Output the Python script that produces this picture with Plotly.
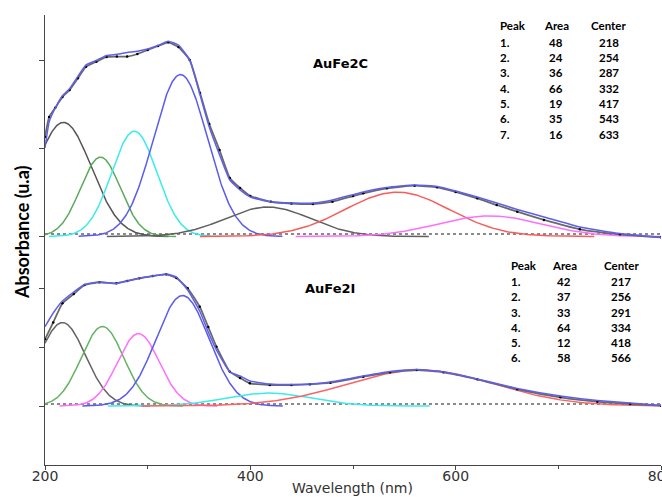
import numpy as np
import plotly.graph_objects as go

# ---- AuFe2C (upper panel): fitted Gaussian peaks ----
c_peaks = [1, 2, 3, 4, 5, 6, 7]
c_centers = [218, 254, 287, 332, 417, 543, 633]
c_areas = [48, 24, 36, 66, 19, 35, 16]
c_fwhm = [64, 46, 52, 62, 98, 120, 118]
c_colors = ["rgb(85,85,85)", "rgb(90,170,90)", "rgb(60,235,235)", "rgb(90,90,240)",
            "rgb(95,95,95)", "rgb(250,90,90)", "rgb(255,110,255)"]
c_scale = 0.184

# AuFe2C measured spectrum and cumulative fit
c_wl = [200, 204, 210, 217, 224, 232, 240, 250, 260, 270, 280, 290, 300, 310, 320, 330,
        341, 351, 360, 370, 380, 390, 400, 420, 440, 461, 480, 500, 510, 533, 560, 582,
        600, 621, 640, 660, 686, 721, 760, 800]
c_meas = [0.1131, 0.1358, 0.1463, 0.1585, 0.1665, 0.1798, 0.1930, 0.1986, 0.2040, 0.2045,
          0.2045, 0.2074, 0.2120, 0.2165, 0.2207, 0.2153, 0.2006, 0.1630, 0.1278, 0.0983,
          0.0665, 0.0551, 0.0460, 0.0395, 0.0375, 0.0369, 0.0395, 0.0460, 0.0491, 0.0548,
          0.0577, 0.0559, 0.0506, 0.0434, 0.0358, 0.0282, 0.0188, 0.0082, 0.0025, -0.0009]
c_fit = [0.1006, 0.1300, 0.1460, 0.1600, 0.1680, 0.1820, 0.1950, 0.2000, 0.2057, 0.2070,
         0.2090, 0.2105, 0.2130, 0.2170, 0.2220, 0.2176, 0.2006, 0.1610, 0.1244, 0.0930,
         0.0642, 0.0528, 0.0449, 0.0392, 0.0380, 0.0380, 0.0415, 0.0475, 0.0506, 0.0557,
         0.0585, 0.0568, 0.0517, 0.0449, 0.0380, 0.0307, 0.0222, 0.0108, 0.0034, -0.0009]

# ---- AuFe2I (lower panel) ----
i_peaks = [1, 2, 3, 4, 5, 6]
i_centers = [217, 256, 291, 334, 418, 566]
i_areas = [42, 37, 33, 64, 12, 58]
i_fwhm = [53, 49, 48, 61, 98, 170]
i_colors = ["rgb(100,100,100)", "rgb(100,180,100)", "rgb(255,110,255)", "rgb(90,90,240)",
            "rgb(60,235,235)", "rgb(250,100,100)"]
i_scale = 0.19

i_wl = [200, 208, 217, 228, 238.5, 253, 269.5, 280, 292, 305, 318, 328, 339, 350.7, 359,
        367, 380, 390, 399.5, 419, 440, 458, 478, 510, 536, 562, 588, 621, 660, 702, 738,
        770, 800]
i_meas = [0.1131, 0.1417, 0.1741, 0.1898, 0.2051, 0.2097, 0.2080, 0.2119, 0.2164, 0.2203,
          0.2232, 0.2170, 0.1995, 0.1683, 0.1339, 0.1005, 0.0581, 0.0475, 0.0385, 0.0356,
          0.0356, 0.0368, 0.0395, 0.0497, 0.0571, 0.0610, 0.0571, 0.0453, 0.0283, 0.0147,
          0.0073, 0.0034, 0.0005]
i_fit = [0.1344, 0.1576, 0.1780, 0.1932, 0.2059, 0.2102, 0.2076, 0.2119, 0.2169, 0.2203,
         0.2237, 0.2186, 0.1966, 0.1610, 0.1254, 0.0949, 0.0576, 0.0508, 0.0424, 0.0373,
         0.0364, 0.0373, 0.0407, 0.0508, 0.0585, 0.0619, 0.0576, 0.0458, 0.0297, 0.0169,
         0.0093, 0.0051, 0.0008]

X_MIN, X_MAX = 200, 800
L, R, T, B, W, H = 45, 1, 15, 32, 662, 497
PW, PH = W - L - R, H - T - B


def px(xp):
    return (xp - L) / PW


def py(yp):
    return (H - B - yp) / PH


def gaussian(center, area, fwhm, scale):
    sigma = fwhm / (2 * np.sqrt(2 * np.log(2)))
    lo = max(X_MIN, center - 1.6 * fwhm)
    hi = min(X_MAX, center + 1.6 * fwhm)
    x = np.linspace(lo, hi, 300)
    amp = area * scale / (sigma * np.sqrt(2 * np.pi))
    return x, amp * np.exp(-(x - center) ** 2 / (2 * sigma ** 2))


fig = go.Figure()


def add_panel(centers, areas, fwhm, colors, scale, wl, meas, fit, xa, ya, base):
    fig.add_trace(go.Scatter(x=[X_MIN, X_MAX], y=[base, base], mode="lines",
                             line=dict(color="rgb(100,100,100)", width=1.5, dash="dot"),
                             xaxis=xa, yaxis=ya, hoverinfo="skip"))
    for c, a, f, col in zip(centers, areas, fwhm, colors):
        gx, gy = gaussian(c, a, f, scale)
        fig.add_trace(go.Scatter(x=gx, y=gy, mode="lines", line=dict(color=col, width=1.5),
                                 xaxis=xa, yaxis=ya))
    fig.add_trace(go.Scatter(x=wl, y=meas, mode="lines+markers",
                             line=dict(color="rgb(105,105,105)", width=1.8, shape="spline",
                                       smoothing=0.4),
                             marker=dict(color="black", size=2.5),
                             xaxis=xa, yaxis=ya))
    fig.add_trace(go.Scatter(x=wl, y=fit, mode="lines",
                             line=dict(color="rgb(95,95,235)", width=1.5, shape="spline",
                                       smoothing=0.4),
                             xaxis=xa, yaxis=ya))


add_panel(i_centers, i_areas, i_fwhm, i_colors, i_scale, i_wl, i_meas, i_fit, "x", "y", 0.0034)
add_panel(c_centers, c_areas, c_fwhm, c_colors, c_scale, c_wl, c_meas, c_fit, "x2", "y2", 0.0028)

split = py(250)
axis_col = "rgb(70,70,70)"
yax = dict(showline=True, linecolor=axis_col, linewidth=1, ticks="outside", ticklen=5,
           tickcolor=axis_col, showticklabels=False, showgrid=False, zeroline=False,
           tickmode="array", tickvals=[0, 0.1, 0.2])

fig.update_layout(
    width=W, height=H, margin=dict(l=L, r=R, t=T, b=B, autoexpand=False),
    paper_bgcolor="white", plot_bgcolor="white", showlegend=False,
    xaxis=dict(range=[X_MIN, X_MAX], anchor="y", showline=True, linecolor=axis_col,
               linewidth=1, ticks="outside", ticklen=4, tickcolor=axis_col,
               tickmode="linear", tick0=200, dtick=200, showgrid=False, zeroline=False,
               ticklabeloverflow="allow", ticklabelstandoff=-6,
               tickfont=dict(family="DejaVu Sans", size=14, color="rgb(50,50,50)"),
               minor=dict(tick0=300, dtick=200, ticks="outside", ticklen=3,
                          tickcolor=axis_col, showgrid=False)),
    xaxis2=dict(range=[X_MIN, X_MAX], anchor="y2", matches="x", visible=False),
    yaxis=dict(domain=[0, split], range=[-0.1, (406 - 250) / 590], **yax),
    yaxis2=dict(domain=[split, 1], range=[(236.5 - 250) / 880, (236.5 - 15) / 880], **yax),
)

ann = []
ann.append(dict(text="<b>Absorbance (u.a)</b>", x=px(22.5), y=py(232.5), textangle=-90,
                font=dict(family="Lato", size=18, color="black")))
ann.append(dict(text="Wavelength (nm)", x=px(352), y=py(488),
                font=dict(family="DejaVu Sans", size=14, color="rgb(50,50,50)")))
ann.append(dict(text="<b>AuFe2C</b>", x=px(340.5), y=py(63),
                font=dict(family="DejaVu Sans", size=13, color="black")))
ann.append(dict(text="<b>AuFe2I</b>", x=px(329.5), y=py(288),
                font=dict(family="DejaVu Sans", size=13, color="black")))

tfont = dict(family="Lato", size=11.5, color="black")


def add_table(peaks, areas, centers, x_peak, x_area, x_center, y_head, y_row0, dy):
    ann.append(dict(text="<b>Peak</b>", x=px(x_peak), y=py(y_head), xanchor="left", font=tfont))
    ann.append(dict(text="<b>Area</b>", x=px(x_area), y=py(y_head), font=tfont))
    ann.append(dict(text="<b>Center</b>", x=px(x_center), y=py(y_head), font=tfont))
    for k, (p, a, c) in enumerate(zip(peaks, areas, centers)):
        yy = py(y_row0 + k * dy)
        ann.append(dict(text=f"<b>{p}.</b>", x=px(x_peak), y=yy, xanchor="left", font=tfont))
        ann.append(dict(text=f"<b>{a}</b>", x=px(x_area), y=yy, font=tfont))
        ann.append(dict(text=f"<b>{c}</b>", x=px(x_center), y=yy, font=tfont))


add_table(c_peaks, c_areas, c_centers, 498, 556, 608.5, 25.7, 42.3, 15.3)
add_table(i_peaks, i_areas, i_centers, 509, 564, 621, 265, 281.7, 15.2)

for a in ann:
    a.setdefault("xanchor", "center")
    a.update(xref="paper", yref="paper", yanchor="middle", showarrow=False)
fig.update_layout(annotations=ann)

fig.write_html("out.html")
